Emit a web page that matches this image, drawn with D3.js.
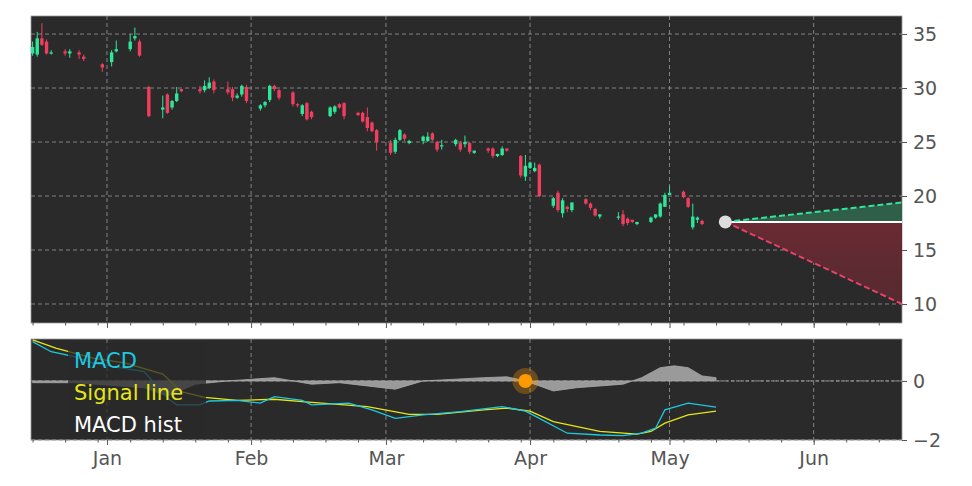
<!DOCTYPE html>
<html><head><meta charset="utf-8">
<script src="https://cdn.jsdelivr.net/npm/d3@7"></script>
<style>body{margin:0;background:#fff}svg text{font-family:"DejaVu Sans",sans-serif}</style>
</head><body><div id="chart"></div>
<script>
// candle data: days from 2020-01-01
const days  = [-16,-15,-14,-13,-12,-9,-8,-6,-5,-1,1,2,5,6,7,9,12,13,14,15,16,20,21,22,23,26,27,28,29,30,33,34,35,36,37,40,41,42,43,44,48,49,50,51,54,55,56,57,58,61,62,63,64,65,68,69,70,71,72,75,76,77,78,79,82,83,84,85,86,89,90,91,92,93,96,97,98,99,100,103,104,105,106,110,111,112,113,114,117,118,119,120,121,124,125,126,127,128,132];
const opens = [33.2,33.1,34.6,34.3,33.2,33.4,33.2,33.3,32.9,32.2,32.4,33.4,33.6,34.6,34.3,30.1,28.0,29.4,28.2,28.8,29.9,29.9,29.8,30.0,30.6,29.9,29.9,29.1,29.4,30.1,28.1,28.4,28.9,30.2,29.8,29.6,28.5,27.6,28.6,27.8,27.4,27.8,28.5,28.6,27.7,27.7,27.3,26.8,26.1,24.9,24.1,25.2,25.7,24.9,25.1,25.1,25.8,25.0,24.6,24.8,24.9,24.8,24.9,24.0,24.4,24.4,23.7,23.8,24.4,23.7,21.8,22.6,22.3,22.9,19.1,20.3,18.4,19.0,18.7,19.7,19.3,18.8,18.1,18.0,18.3,17.9,17.8,17.4,17.6,18.0,18.1,19.0,20.1,20.4,19.8,17.1,17.8,17.7,17.8];
const closes= [33.8,34.6,34.0,33.2,33.3,33.2,33.4,33.1,32.7,31.9,33.3,33.6,34.3,34.8,33.0,27.4,28.2,27.7,28.8,29.5,29.7,29.7,30.2,30.5,29.8,29.6,29.1,29.3,30.2,28.8,28.4,28.7,30.2,29.9,29.1,28.5,28.4,28.4,27.1,27.3,28.2,28.3,28.2,27.4,27.5,26.9,26.3,26.0,25.0,24.0,25.2,26.1,25.3,25.1,25.5,25.5,25.2,24.3,24.7,25.2,24.3,25.0,24.1,24.2,24.2,23.7,23.9,24.4,24.2,21.9,22.8,23.1,22.6,20.0,19.8,18.7,19.6,18.8,19.4,19.3,18.9,18.2,18.3,18.1,17.4,17.5,17.6,17.6,18.0,18.3,19.3,20.1,20.3,19.9,19.0,18.1,18.0,17.4,17.6];
const highs = [34.3,35.2,36.0,34.5,33.5,33.6,33.6,33.5,33.1,32.3,33.5,34.4,35.0,35.6,34.5,30.2,29.3,29.5,28.9,30.1,29.9,30.2,30.7,31.0,30.8,30.6,30.1,29.5,30.3,30.3,28.5,28.8,30.3,30.3,29.9,29.7,28.6,28.5,28.7,27.9,28.3,28.4,28.6,28.7,27.8,27.8,28.2,26.9,26.2,25.2,25.4,26.2,25.8,25.2,25.6,25.9,25.9,25.1,25.2,25.3,25.1,25.6,25.0,24.2,24.5,24.5,23.9,24.6,24.4,23.8,23.8,23.2,23.1,23.0,19.9,20.5,19.8,19.1,19.4,19.8,19.4,18.9,18.3,18.5,18.7,18.0,17.8,17.6,18.1,18.3,19.4,20.3,20.9,20.5,19.9,19.3,18.1,17.8,17.8];
const lows  = [33.0,32.9,33.9,33.1,33.1,33.0,32.8,32.7,32.5,31.5,32.0,33.3,33.4,34.4,32.9,27.3,27.2,27.6,28.0,28.7,29.6,29.5,29.6,29.9,29.5,29.4,28.8,29.0,29.2,28.6,27.9,28.2,28.7,29.7,28.9,28.3,28.2,27.4,27.0,27.1,27.3,27.6,28.1,27.1,27.4,26.8,26.0,25.9,24.2,23.8,23.9,25.1,25.1,24.8,24.8,25.0,25.1,24.1,24.3,24.6,24.1,24.5,23.9,23.9,24.0,23.5,23.6,23.7,24.1,21.7,21.4,22.5,22.2,19.9,18.9,18.5,18.0,18.5,18.5,19.2,18.7,18.1,17.9,17.8,17.2,17.3,17.5,17.3,17.5,17.9,18.0,19.0,20.1,19.8,18.9,16.9,17.5,17.3,17.5];
// forecast
const lastDay = 133, lastPrice = 17.6, endDay = 171, upEnd = 19.4, downEnd = 10.0;
// MACD panel
const macdDays = [-16,-12,-7,-3,3,8,13,15,20,22,28,33,36,42,44,52,57,62,68,76,85,90,93,99,106,111,115,118,120,125,131];
const macd     = [1.33,0.99,0.82,0.60,0.44,0.32,-0.58,-0.81,-0.81,-0.68,-0.66,-0.75,-0.53,-0.66,-0.81,-0.75,-0.98,-1.27,-1.15,-1.04,-0.87,-1.02,-1.27,-1.77,-1.83,-1.85,-1.77,-1.60,-0.98,-0.75,-0.89];
const sigDays  = [-16,-11,-3,4,12,16,21,28,36,42,56,65,71,81,86,91,96,106,114,117,120,125,131];
const signal   = [1.39,1.11,0.77,0.60,0.23,-0.36,-0.56,-0.66,-0.62,-0.70,-0.87,-1.13,-1.13,-0.98,-0.92,-1.02,-1.38,-1.71,-1.80,-1.71,-1.43,-1.15,-1.02];
const histDays = [-16,-7,8,13,19,26,36,44,50,56,62,68,81,86,90,96,101,111,115,119,122,125,128,131];
const hist     = [-0.06,-0.06,-0.23,-0.51,-0.11,0,0.11,-0.11,-0.06,-0.17,-0.28,0,0.11,0.14,0,-0.34,-0.23,-0.11,0.11,0.45,0.51,0.45,0.17,0.11];
const signalDay = 90;
const monthTicks = ["2020-01-01","2020-02-01","2020-03-01","2020-04-01","2020-05-01","2020-06-01"];
const priceTicks = [10,15,20,25,30,35];
const macdTicks = [-2,0];

const W = 972, H = 486;
const left = 31, right = 902, top1 = 16, bot1 = 323, top2 = 339, bot2 = 440;
const base = new Date(2020,0,1);
const toDate = d => d3.timeDay.offset(base, d);
const bg = "#2a2a2a", grid = "#9a9a9a", up = "#2ee89a", down = "#f03e5e";
const font = "'DejaVu Sans', sans-serif";

const svg = d3.select("#chart").append("svg").attr("width", W).attr("height", H);
const x = d3.scaleTime().domain([new Date(base.getTime() - 16.34 * 864e5), new Date(base.getTime() + 171 * 864e5)]).range([left, right]);
const y = d3.scaleLinear().domain([8.24, 36.67]).range([bot1, top1]);
const y2 = d3.scaleLinear().domain([-2, 1.42]).range([bot2, top2]);
const months = monthTicks.map(s => new Date(s + "T00:00"));

function panel(t, b, yy, ticks) {
  svg.append("rect").attr("x", left).attr("y", t).attr("width", right - left).attr("height", b - t)
    .attr("fill", bg).attr("stroke", "#999").attr("stroke-width", 0.8);
  svg.append("g").selectAll("line").data(months).join("line")
    .attr("x1", d => x(d)).attr("x2", d => x(d)).attr("y1", t).attr("y2", b)
    .attr("stroke", grid).attr("stroke-dasharray", "4,3").attr("stroke-width", 0.8);
  svg.append("g").selectAll("line").data(ticks).join("line")
    .attr("x1", left).attr("x2", right).attr("y1", d => yy(d)).attr("y2", d => yy(d))
    .attr("stroke", grid).attr("stroke-dasharray", "4,3").attr("stroke-width", 0.8);
  const ax = svg.append("g").attr("transform", `translate(${right},0)`)
    .call(d3.axisRight(yy).tickValues(ticks).tickSize(5).tickPadding(6).tickFormat(d3.format("d")));
  ax.select(".domain").remove();
  ax.selectAll("line").attr("stroke", "#555");
  ax.selectAll("text").attr("fill", "#555").style("font-size", "19px").style("font-family", font);
  // x ticks
  const g = svg.append("g").attr("transform", `translate(0,${b})`)
    .call(d3.axisBottom(x).tickValues(months).tickSize(5).tickFormat(d3.timeFormat("%b")).tickPadding(7));
  g.select(".domain").remove();
  g.selectAll("line").attr("stroke", "#555");
  g.selectAll("text").attr("fill", "#555").style("font-size", "19px").style("font-family", font);
  const gm = svg.append("g").attr("transform", `translate(0,${b})`)
    .call(d3.axisBottom(x).ticks(d3.timeMonday).tickSize(2.5).tickFormat(""));
  gm.select(".domain").remove();
  gm.selectAll("line").attr("stroke", "#555");
  return g;
}
const g1 = panel(top1, bot1, y, priceTicks);
g1.selectAll("text").remove();
panel(top2, bot2, y2, macdTicks);

// forecast cone
const main = svg.append("g");
const p0 = [x(toDate(lastDay)), y(lastPrice)];
const pe = x(toDate(endDay));
main.append("path").attr("d", `M${p0}L${pe},${y(upEnd)}L${pe},${y(lastPrice)}Z`).attr("fill", "#2f5e49");
const grad = svg.append("defs").append("linearGradient").attr("id", "rg").attr("x1", 0).attr("y1", 0).attr("x2", 0).attr("y2", 1);
grad.append("stop").attr("offset", 0).attr("stop-color", "#6a2a33");
grad.append("stop").attr("offset", 1).attr("stop-color", "#552a30");
main.append("path").attr("d", `M${p0}L${pe},${y(downEnd)}L${pe},${y(lastPrice)}Z`).attr("fill", "url(#rg)");
main.append("line").attr("x1", p0[0]).attr("y1", p0[1]).attr("x2", pe).attr("y2", y(lastPrice)).attr("stroke", "#fff").attr("stroke-width", 2);
main.append("line").attr("x1", p0[0]).attr("y1", p0[1]).attr("x2", pe).attr("y2", y(upEnd)).attr("stroke", "#33e39a").attr("stroke-width", 2).attr("stroke-dasharray", "6,3");
main.append("line").attr("x1", p0[0]).attr("y1", p0[1]).attr("x2", pe).attr("y2", y(downEnd)).attr("stroke", "#e8406a").attr("stroke-width", 2).attr("stroke-dasharray", "6,3");

// candles
const cw = 3.4;
const candles = days.map((d, i) => ({d: toDate(d), o: opens[i], c: closes[i], h: highs[i], l: lows[i]}));
const cg = main.selectAll("g.c").data(candles).join("g");
cg.append("line").attr("x1", d => x(d.d)).attr("x2", d => x(d.d)).attr("y1", d => y(d.h)).attr("y2", d => y(d.l))
  .attr("stroke", d => d.c >= d.o ? up : down).attr("stroke-width", 1);
cg.append("rect").attr("x", d => x(d.d) - cw / 2).attr("width", cw)
  .attr("y", d => y(Math.max(d.o, d.c))).attr("height", d => Math.max(1.2, Math.abs(y(d.o) - y(d.c))))
  .attr("fill", d => d.c >= d.o ? up : down);
main.append("circle").attr("cx", p0[0]).attr("cy", p0[1]).attr("r", 6.5).attr("fill", "#ddd");

// MACD panel
const hd = histDays.map((d, i) => [toDate(d), hist[i]]);
svg.append("path").datum(hd)
  .attr("d", d3.area().x(d => x(d[0])).y0(y2(0)).y1(d => y2(d[1])))
  .attr("fill", "#9a9a9a").attr("stroke", "#aaa").attr("stroke-width", 0.8);
svg.append("line").attr("x1", x(toDate(131))).attr("x2", right).attr("y1", y2(0)).attr("y2", y2(0))
  .attr("stroke", "#9a9a9a").attr("stroke-dasharray", "3,2");
const line = d3.line().x(d => x(d[0])).y(d => y2(d[1]));
svg.append("path").datum(sigDays.map((d, i) => [toDate(d), signal[i]]))
  .attr("d", line).attr("fill", "none").attr("stroke", "#e6e619").attr("stroke-width", 1.3);
svg.append("path").datum(macdDays.map((d, i) => [toDate(d), macd[i]]))
  .attr("d", line).attr("fill", "none").attr("stroke", "#1ec8e0").attr("stroke-width", 1.3);
svg.append("circle").attr("cx", x(toDate(signalDay))).attr("cy", y2(0)).attr("r", 13).attr("fill", "#ff9900").attr("opacity", 0.3);
svg.append("circle").attr("cx", x(toDate(signalDay))).attr("cy", y2(0)).attr("r", 7).attr("fill", "#ff9900");

// legend
svg.append("rect").attr("x", 68).attr("y", 343).attr("width", 138).attr("height", 96).attr("fill", bg).attr("opacity", 0.75);
const leg = [["MACD", "#1ec8e0"], ["Signal line", "#e6e619"], ["MACD hist", "#fff"]];
svg.append("g").selectAll("text").data(leg).join("text")
  .attr("x", 74).attr("y", (d, i) => 368 + i * 32).attr("fill", d => d[1])
  .style("font-size", "21px").style("font-family", font).text(d => d[0]);
</script></body></html>
